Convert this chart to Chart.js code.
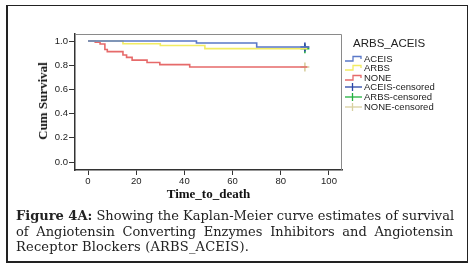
<!DOCTYPE html>
<html><head><meta charset="utf-8">
<script src="https://cdn.jsdelivr.net/npm/chart.js@4/dist/chart.umd.min.js"></script>
<style>
html,body{margin:0;padding:0;background:#fff;}
#wrap{position:relative;width:474px;height:271px;overflow:hidden;background:#fff;}
#frame{position:absolute;left:6px;top:5px;width:459px;height:255px;border:1px solid #222;border-left-width:2px;border-bottom-width:2px;}
canvas{position:absolute;left:0;top:0;}
.t{position:absolute;white-space:nowrap;color:#111;}
#xt{left:0;width:417px;text-align:center;top:186px;font:bold 13px "Liberation Serif",serif;}
#yt{left:43px;top:101px;transform:translate(-50%,-50%) rotate(-90deg);font:13px "Liberation Serif",serif;font-weight:bold;}
#lgtitle{left:353px;top:37px;font:11.5px "Liberation Sans",Arial,sans-serif;color:#222;}
.li{position:absolute;left:345px;height:10px;font:9.5px "Liberation Sans",Arial,sans-serif;color:#222;line-height:10px;white-space:nowrap;}
.li svg{position:absolute;left:0;top:0;}
.li span{position:absolute;left:19px;top:0;}
.cap{position:absolute;left:16px;width:437px;font:13px "DejaVu Serif",serif;color:#222;white-space:nowrap;}
.j{text-align:justify;text-align-last:justify;}
</style></head>
<body>
<div id="wrap">
<div id="frame"></div>
<canvas id="c" width="474" height="271"></canvas>
<div class="t" id="xt">Time_to_death</div>
<div class="t" id="yt">Cum Survival</div>
<div class="t" id="lgtitle">ARBS_ACEIS</div>
<div id="legend"></div>
<div class="cap j" style="top:208px"><b>Figure 4A:</b> Showing the Kaplan-Meier curve estimates of survival</div>
<div class="cap j" style="top:224px">of Angiotensin Converting Enzymes Inhibitors and Angiotensin</div>
<div class="cap" style="top:239px;letter-spacing:0.2px">Receptor Blockers (ARBS_ACEIS).</div>
</div>
<script>
// ---- data ----
const xTicks = [0, 20, 40, 60, 80, 100];
const yTicks = [0.0, 0.2, 0.4, 0.6, 0.8, 1.0];
const seriesNames = ["ACEIS", "ARBS", "NONE"];
const aceisTime = [0, 45, 70, 91];
const aceisSurv = [1.0, 0.984, 0.95, 0.95];
const arbsTime = [0, 14.5, 30, 48.5, 91];
const arbsSurv = [1.0, 0.978, 0.963, 0.937, 0.937];
const noneTime = [0, 3, 5, 7, 8, 14.5, 16, 18.3, 24.5, 29.8, 42.2, 91];
const noneSurv = [1.0, 0.99, 0.975, 0.93, 0.912, 0.885, 0.865, 0.842, 0.822, 0.805, 0.785, 0.785];
const censorTime = [90];
const aceisCensor = [0.95];
const arbsCensor = [0.937];
const noneCensor = [0.785];

const colors = {ACEIS:'#5a78c8', ARBS:'#f2ec62', NONE:'#e66a6a',
  ACEISc:'#2a46a8', ARBSc:'#22b040', NONEc:'#d8d0a0'};

const pts = (t, s) => t.map((v, i) => ({x: v, y: s[i]}));

const line = (label, t, s, col) => ({label, data: pts(t, s), borderColor: col, borderWidth: 1.6,
  showLine: true, stepped: 'before', pointRadius: 0, pointHoverRadius: 0, fill: false, tension: 0});
const cens = (label, s, col) => ({label, data: pts(censorTime, s), borderColor: col, backgroundColor: col,
  showLine: false, pointStyle: 'cross', pointRadius: 4.5, pointBorderWidth: 1.6, pointHoverRadius: 4.5});

const frameTR = {
  id: 'frameTR',
  beforeDatasetsDraw(chart) {
    const a = chart.chartArea, ctx = chart.ctx;
    ctx.save();
    ctx.strokeStyle = '#8a8a8a'; ctx.lineWidth = 1;
    ctx.beginPath();
    ctx.moveTo(a.left, a.top + 0.5); ctx.lineTo(a.right - 0.5, a.top + 0.5); ctx.lineTo(a.right - 0.5, a.bottom);
    ctx.stroke();
    ctx.restore();
  }
};

new Chart(document.getElementById('c'), {
  type: 'scatter',
  data: {datasets: [
    line('ACEIS', aceisTime, aceisSurv, colors.ACEIS),
    line('ARBS', arbsTime, arbsSurv, colors.ARBS),
    line('NONE', noneTime, noneSurv, colors.NONE),
    cens('ACEIS-censored', aceisCensor, colors.ACEISc),
    cens('ARBS-censored', arbsCensor, colors.ARBSc),
    cens('NONE-censored', noneCensor, colors.NONEc)
  ]},
  options: {
    responsive: false, animation: false, devicePixelRatio: 1,
    layout: {padding: {left: 0, top: 34, right: 132, bottom: 0}},
    plugins: {legend: {display: false}, tooltip: {enabled: false}},
    scales: {
      x: {type: 'linear', min: -5.4, max: 105.4,
        afterFit(s) { s.height = 101; },
        afterBuildTicks(s) { s.ticks = xTicks.map(v => ({value: v})); },
        grid: {drawOnChartArea: false, drawTicks: true, tickLength: 5, color: '#333', lineWidth: 1},
        border: {display: true, color: '#333', width: 1.5},
        ticks: {padding: 1, color: '#222', font: {family: 'Liberation Sans, Arial', size: 9.5}, maxRotation: 0,
          callback: v => String(v)}
      },
      y: {type: 'linear', min: -0.066, max: 1.058,
        afterFit(s) { s.width = 75; },
        afterBuildTicks(s) { s.ticks = yTicks.map(v => ({value: v})); },
        grid: {drawOnChartArea: false, drawTicks: true, tickLength: 6, color: '#333', lineWidth: 1},
        border: {display: true, color: '#333', width: 1.5},
        ticks: {padding: 1, color: '#222', font: {family: 'Liberation Sans, Arial', size: 9.5},
          callback: v => Number(v).toFixed(1)}
      }
    }
  },
  plugins: [frameTR]
});

// ---- legend ----
const legendItems = [
  {name: 'ACEIS', col: colors.ACEIS, kind: 'step', cy: 58.5},
  {name: 'ARBS', col: colors.ARBS, kind: 'step', cy: 68},
  {name: 'NONE', col: colors.NONE, kind: 'step', cy: 77.5},
  {name: 'ACEIS-censored', col: colors.ACEISc, kind: 'cross', cy: 87},
  {name: 'ARBS-censored', col: colors.ARBSc, kind: 'cross', cy: 96.5},
  {name: 'NONE-censored', col: colors.NONEc, kind: 'cross', cy: 106.5}
];
const lg = document.getElementById('legend');
legendItems.forEach(it => {
  const d = document.createElement('div');
  d.className = 'li';
  d.style.top = (it.cy - 5) + 'px';
  const path = it.kind === 'step'
    ? '<polyline points="0,7 8,7 8,2.5 16,2.5 16,5" fill="none" stroke="' + it.col + '" stroke-width="1.3"/>'
    : '<line x1="0" y1="5" x2="17" y2="5" stroke="' + it.col + '" stroke-width="1.3"/><line x1="7.5" y1="1" x2="7.5" y2="9" stroke="' + it.col + '" stroke-width="1.3"/>';
  d.innerHTML = '<svg width="18" height="10">' + path + '</svg><span>' + it.name + '</span>';
  lg.appendChild(d);
});
</script>
</body></html>
